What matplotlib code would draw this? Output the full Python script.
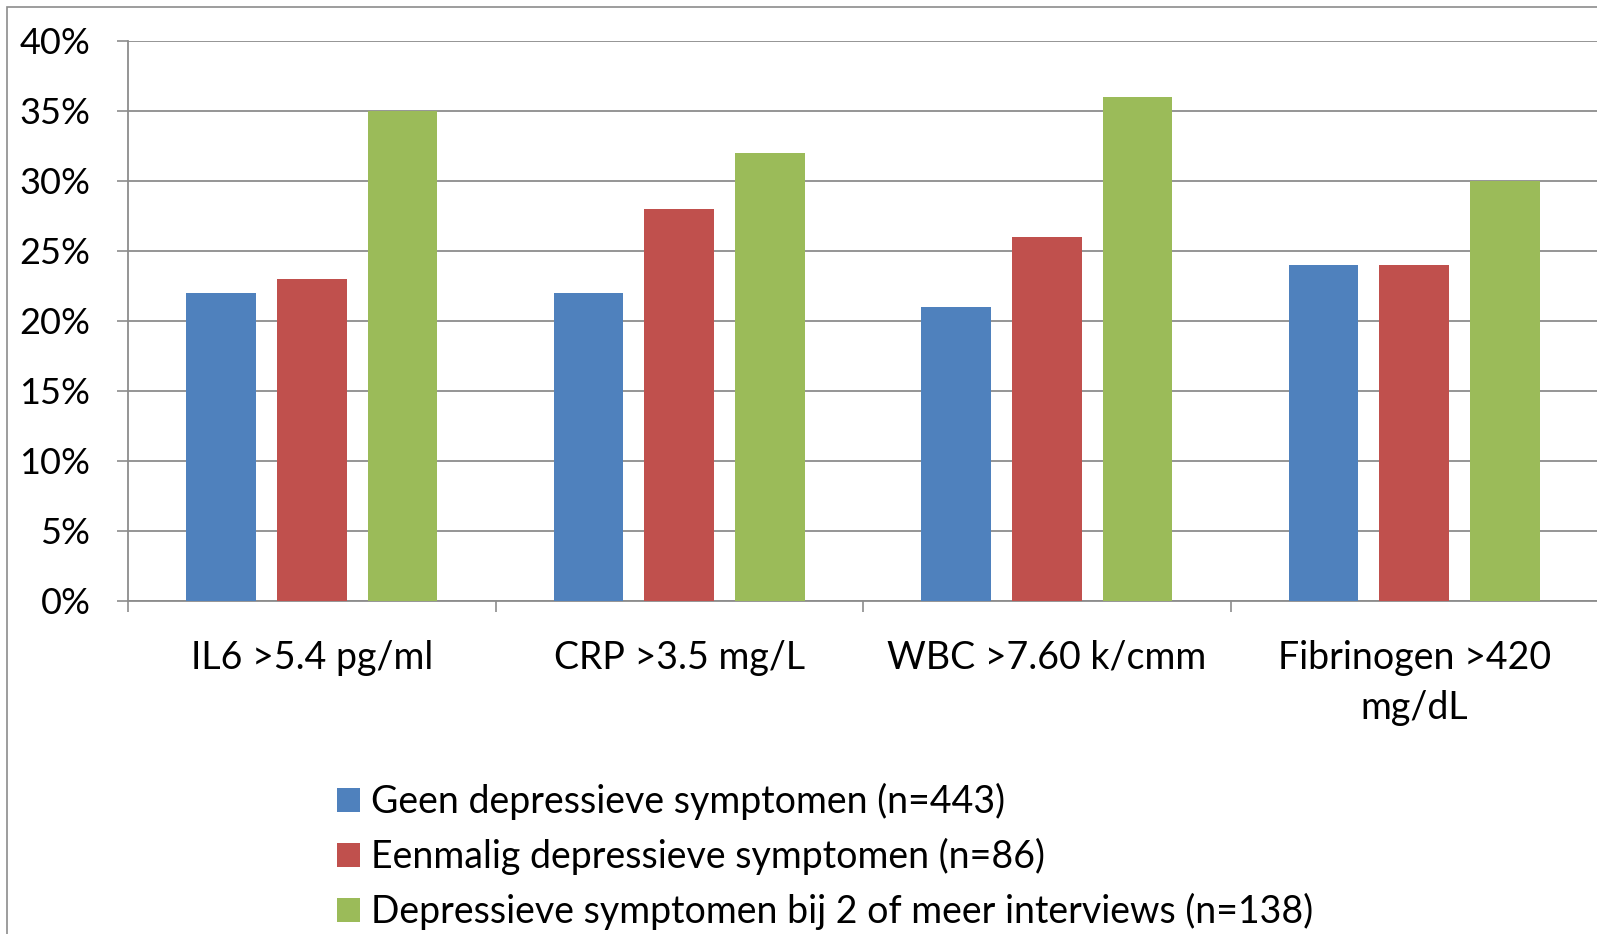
import matplotlib
matplotlib.use("Agg")
import matplotlib.pyplot as plt
from matplotlib.patches import Patch, Rectangle
import numpy as np

categories = ["IL6 >5.4 pg/ml", "CRP >3.5 mg/L", "WBC >7.60 k/cmm", "Fibrinogen >420\nmg/dL"]
series_names = [
    "Geen depressieve symptomen (n=443)",
    "Eenmalig depressieve symptomen (n=86)",
    "Depressieve symptomen bij 2 of meer interviews (n=138)",
]
geen = [22, 22, 21, 24]
eenmalig = [23, 28, 26, 24]
herhaald = [35, 32, 36, 30]
series_values = [geen, eenmalig, herhaald]
colors = ["#4F81BD", "#C0504D", "#9BBB59"]
yticks = [0, 5, 10, 15, 20, 25, 30, 35, 40]

plt.rcParams["font.family"] = ["Lato", "DejaVu Sans"]
FS = 27
FS_Y = 26
W, H = 1597, 934
fig = plt.figure(figsize=(W / 100, H / 100), dpi=100)

# outer chart frame
fig.patches.append(Rectangle((7 / W, -0.1), 1.2, (H - 7) / H + 0.1,
                             transform=fig.transFigure, fill=False,
                             edgecolor="#8c8c8c", lw=1.2))

ax = fig.add_axes([128 / W, 333 / H, (1598 - 128) / W, 560 / H])

x = np.arange(len(categories))
width = 0.19
step = 0.247
for i, (vals, col, name) in enumerate(zip(series_values, colors, series_names)):
    ax.bar(x + (i - 1) * step, vals, width=width, color=col, label=name, zorder=3)

ax.set_xlim(-0.5, len(categories) - 0.5)
ax.set_ylim(0, 40)
ax.set_yticks(yticks)
ax.set_yticklabels([f"{v}%" for v in yticks])
ax.yaxis.grid(True, color="#8c8c8c", lw=1.3, zorder=0)
ax.set_axisbelow(True)

ax.set_xticks(x)
ax.set_xticklabels(categories, linespacing=1.5)
ax.set_xticks(np.arange(len(categories) + 1) - 0.5, minor=True)
ax.tick_params(axis="x", which="major", length=0, pad=28, labelsize=FS)
ax.tick_params(axis="x", which="minor", length=8, color="#8c8c8c", width=1.2, direction="out")
ax.tick_params(axis="y", length=8, color="#8c8c8c", width=1.2, pad=19, labelsize=FS_Y)

for s in ["top", "right"]:
    ax.spines[s].set_visible(False)
for s in ["left", "bottom"]:
    ax.spines[s].set_color("#8c8c8c")
    ax.spines[s].set_linewidth(1.3)

handles = [Patch(facecolor=c) for c in colors]
fig.legend(handles, series_names, loc="upper left",
           bbox_to_anchor=(337 / W, 1 - 783 / H), frameon=False,
           fontsize=FS, handlelength=0.62, handleheight=0.62,
           handletextpad=0.28, labelspacing=0.48, borderpad=0, borderaxespad=0)

fig.savefig("out.png", dpi=100)
